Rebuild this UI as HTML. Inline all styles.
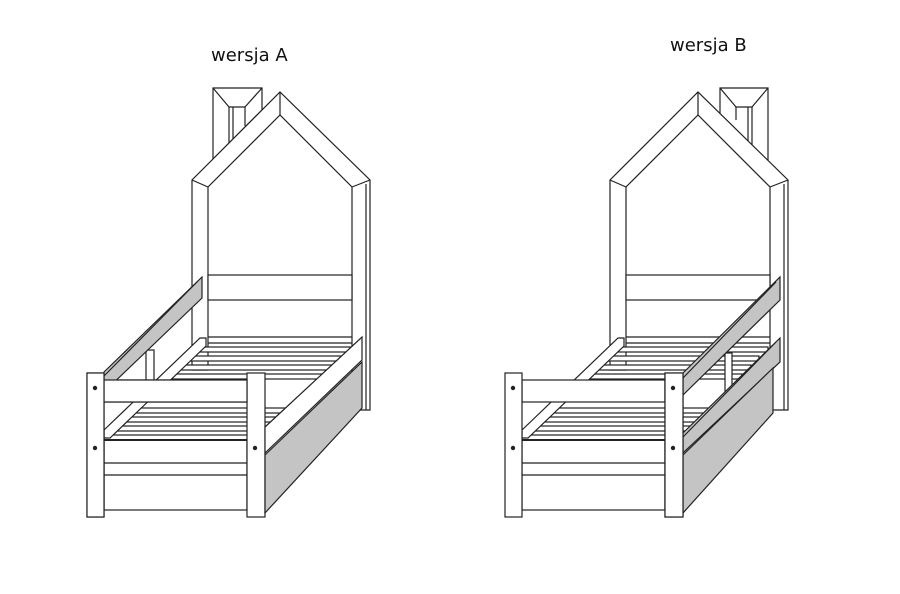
<!DOCTYPE html>
<html><head><meta charset="utf-8"><style>
html,body{margin:0;padding:0;background:#fff;width:900px;height:594px;overflow:hidden}
svg{display:block}
text{font-family:"DejaVu Sans","Liberation Sans",sans-serif;font-size:18px;fill:#111}
</style></head><body>
<svg width="900" height="594" viewBox="0 0 900 594" xmlns="http://www.w3.org/2000/svg">
<rect width="900" height="594" fill="#fff"/>
<text x="211" y="61">wersja A</text>
<text x="670" y="51">wersja B</text>

<defs>
<g id="bed" fill="#fff" stroke="#222" stroke-width="1.2">
  <path d="M192,370 L192,180 L280,92 L370,180 L370,410 L352,410 L352,187 L280,115 L208,187 L208,370 Z"/>
  <line x1="192" y1="180" x2="208" y2="187"/>
  <line x1="370" y1="180" x2="352" y2="187"/>
  <line x1="280" y1="92" x2="280" y2="115"/>
  <line x1="366" y1="184" x2="366" y2="410"/>
  <rect x="208" y="275" width="144" height="25"/>
  <line x1="208" y1="337" x2="352" y2="337"/>
  <line x1="208" y1="343" x2="352" y2="343"/>
  <rect x="193" y="347" width="157" height="5"/>
  <rect x="183" y="356" width="158" height="5"/>
  <rect x="174" y="365" width="159" height="5"/>
  <rect x="164" y="374" width="160" height="5"/>
  <rect x="129" y="408" width="162" height="5"/>
  <rect x="119" y="417" width="163" height="5"/>
  <rect x="110" y="426" width="164" height="5"/>
  <rect x="104" y="435" width="161" height="5"/>
  <polygon points="104,430 200,338 206,338 206,346 110,438 104,438"/>
  <rect x="104" y="380" width="143" height="22"/>
  <rect x="104" y="440" width="143" height="70"/>
  <line x1="104" y1="463" x2="247" y2="463"/>
  <line x1="104" y1="475" x2="247" y2="475"/>
  <line x1="104" y1="440" x2="247" y2="440" stroke-width="2"/>
  <rect x="87" y="373" width="17" height="144"/>
  <rect x="247" y="373" width="18" height="144"/>
  <circle cx="95" cy="388" r="1.6" fill="#222"/>
  <circle cx="95" cy="448" r="1.6" fill="#222"/>
  <circle cx="255" cy="448" r="1.6" fill="#222"/>
</g>
</defs>

<g fill="#fff" stroke="#222" stroke-width="1.2">
  <polygon points="213,88 262,88 262,110 213,159"/>
  <polyline points="229,155 229,107 245,107 245,126" fill="none"/>
  <line x1="213" y1="88" x2="229" y2="107"/>
  <line x1="262" y1="88" x2="245" y2="107"/>
  <line x1="233" y1="107" x2="233" y2="150"/>
</g>
<use href="#bed"/>
<g stroke="#222" stroke-width="1.2">
  <rect x="146" y="350" width="8" height="30" fill="#fff"/>
  <polygon points="104,372 202,277 202,298 104,392" fill="#c4c4c4"/>
  <line x1="104" y1="376" x2="198" y2="281"/>
  <polygon points="265,427 362,337 362,360 265,453" fill="#fff"/>
  <polygon points="265,455 362,362 362,408 265,513" fill="#c4c4c4"/>
  <rect x="104" y="380" width="143" height="22" fill="#fff"/>
  <rect x="87" y="373" width="17" height="144" fill="#fff"/>
  <circle cx="95" cy="388" r="1.6" fill="#222"/>
  <circle cx="95" cy="448" r="1.6" fill="#222"/>
</g>

<g fill="#fff" stroke="#222" stroke-width="1.2">
  <polygon points="720,88 768,88 768,162 720,114"/>
  <polyline points="736,120 736,107 752,107 752,152" fill="none"/>
  <line x1="720" y1="88" x2="736" y2="107"/>
  <line x1="768" y1="88" x2="752" y2="107"/>
  <line x1="748" y1="107" x2="748" y2="150"/>
</g>
<use href="#bed" x="418"/>
<g stroke="#222" stroke-width="1.2">
  <rect x="725" y="353" width="7" height="42" fill="#fff"/>
  <polygon points="683,373 780,277 780,300 683,395" fill="#c4c4c4"/>
  <line x1="683" y1="378" x2="776" y2="282"/>
  <polygon points="683,433 780,338 780,362 683,453" fill="#c4c4c4"/>
  <line x1="683" y1="437" x2="776" y2="342"/>
  <polygon points="683,455 773,368 773,413 683,513" fill="#c4c4c4"/>
  <rect x="665" y="373" width="18" height="144" fill="#fff"/>
  <circle cx="673" cy="388" r="1.6" fill="#222"/>
  <circle cx="673" cy="448" r="1.6" fill="#222"/>
</g>
</svg>
</body></html>
